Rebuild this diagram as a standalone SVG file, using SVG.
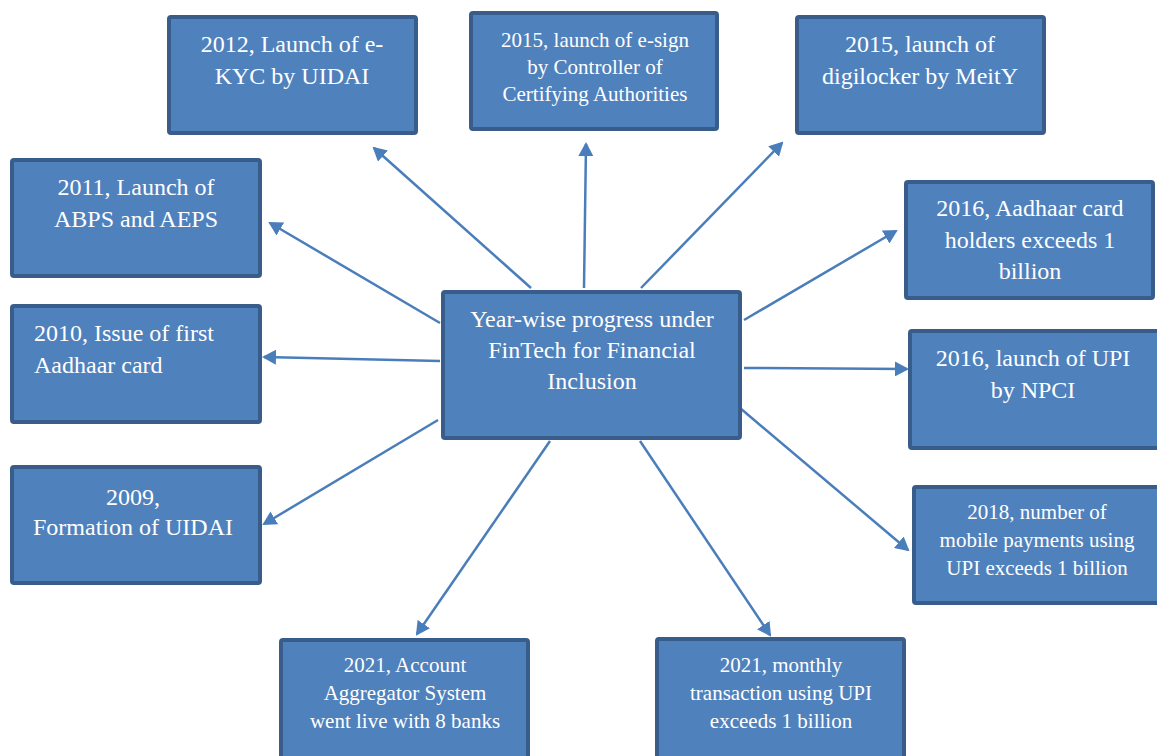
<svg xmlns="http://www.w3.org/2000/svg" width="1157" height="756" viewBox="0 0 1157 756">
<style>
.box{fill:#4F81BD;stroke:#385D8A;stroke-width:4;}
.t{font-family:"Liberation Serif","Times New Roman",serif;fill:#fff;font-size:24px;text-anchor:middle;}
.s{font-size:21px;}
.c line{stroke:#4A7EBB;stroke-width:2.5;marker-end:url(#ah);}
</style>
<defs>
<marker id="ah" markerWidth="14" markerHeight="15" refX="12" refY="7.5" orient="auto" markerUnits="userSpaceOnUse">
<path d="M0,0 L14,7.5 L0,15 z" fill="#4A7EBB"/>
</marker>
</defs>
<rect width="1157" height="756" fill="#fff"/>
<g class="c" id="connectors">
<line x1="531" y1="288" x2="374" y2="148"/>
<line x1="584" y1="288" x2="586" y2="144"/>
<line x1="641" y1="288" x2="782" y2="143"/>
<line x1="440" y1="323" x2="270" y2="223"/>
<line x1="744" y1="320" x2="896" y2="231"/>
<line x1="440" y1="361" x2="264" y2="357"/>
<line x1="744" y1="368" x2="907" y2="369"/>
<line x1="438" y1="420" x2="264" y2="524"/>
<line x1="740" y1="408" x2="908" y2="550"/>
<line x1="550" y1="441" x2="417" y2="634"/>
<line x1="640" y1="441" x2="770" y2="635"/>
</g>
<g id="center">
<rect class="box" x="443" y="292" width="297" height="146" rx="2"/>
<text class="t" x="592" y="327">Year-wise progress under</text>
<text class="t" x="592" y="358">FinTech for Financial</text>
<text class="t" x="592" y="389">Inclusion</text>
</g>
<g id="n2012">
<rect class="box" x="169" y="17" width="247" height="116" rx="2"/>
<text class="t" x="292" y="52">2012, Launch of e-</text>
<text class="t" x="292" y="84">KYC by UIDAI</text>
</g>
<g id="n2015a">
<rect class="box" x="471" y="13" width="246" height="116" rx="2"/>
<text class="t s" x="595" y="47">2015, launch of e-sign</text>
<text class="t s" x="595" y="74">by Controller of</text>
<text class="t s" x="595" y="101">Certifying Authorities</text>
</g>
<g id="n2015b">
<rect class="box" x="797" y="17" width="247" height="116" rx="2"/>
<text class="t" x="920" y="52">2015, launch of</text>
<text class="t" x="920" y="84">digilocker by MeitY</text>
</g>
<g id="n2011">
<rect class="box" x="12" y="160" width="248" height="116" rx="2"/>
<text class="t" x="136" y="195">2011, Launch of</text>
<text class="t" x="136" y="227">ABPS and AEPS</text>
</g>
<g id="n2016a">
<rect class="box" x="906" y="182" width="247" height="116" rx="2"/>
<text class="t" x="1030" y="216">2016, Aadhaar card</text>
<text class="t" x="1030" y="248">holders exceeds 1</text>
<text class="t" x="1030" y="279">billion</text>
</g>
<g id="n2010">
<rect class="box" x="12" y="306" width="248" height="116" rx="2"/>
<text class="t" x="34" y="341" style="text-anchor:start">2010, Issue of first</text>
<text class="t" x="34" y="373" style="text-anchor:start">Aadhaar card</text>
</g>
<g id="n2016b">
<rect class="box" x="910" y="331" width="249" height="117" rx="2"/>
<text class="t" x="1033" y="366">2016, launch of UPI</text>
<text class="t" x="1033" y="398">by NPCI</text>
</g>
<g id="n2009">
<rect class="box" x="12" y="467" width="248" height="116" rx="2"/>
<text class="t" x="133" y="505">2009,</text>
<text class="t" x="133" y="535">Formation of UIDAI</text>
</g>
<g id="n2018">
<rect class="box" x="914" y="487" width="245" height="116" rx="2"/>
<text class="t s" x="1037" y="519">2018, number of</text>
<text class="t s" x="1037" y="547">mobile payments using</text>
<text class="t s" x="1037" y="575">UPI exceeds 1 billion</text>
</g>
<g id="n2021a">
<rect class="box" x="281" y="640" width="247" height="120" rx="2"/>
<text class="t s" x="405" y="672">2021, Account</text>
<text class="t s" x="405" y="700">Aggregator System</text>
<text class="t s" x="405" y="728">went live with 8 banks</text>
</g>
<g id="n2021b">
<rect class="box" x="657" y="639" width="247" height="121" rx="2"/>
<text class="t s" x="781" y="672">2021, monthly</text>
<text class="t s" x="781" y="700">transaction using UPI</text>
<text class="t s" x="781" y="728">exceeds 1 billion</text>
</g>
</svg>
